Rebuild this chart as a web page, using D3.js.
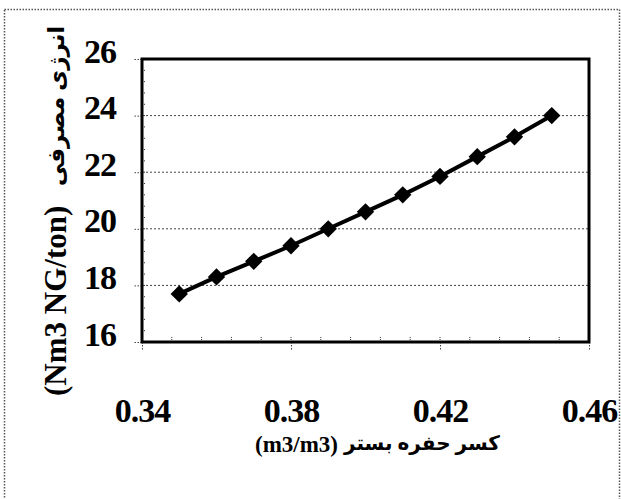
<!DOCTYPE html>
<html>
<head>
<meta charset="utf-8">
<script src="https://cdn.jsdelivr.net/npm/d3@7"></script>
<style>
  body { margin: 0; background: #fff; }
  text { font-family: "Liberation Serif", "DejaVu Serif", "DejaVu Sans", serif; font-weight: bold; fill: #000; }
</style>
</head>
<body>
<div id="chart"></div>
<script>
var voidFraction = [0.35, 0.36, 0.37, 0.38, 0.39, 0.40, 0.41, 0.42, 0.43, 0.44, 0.45];
var energy = [17.7, 18.3, 18.85, 19.4, 20.0, 20.6, 21.2, 21.85, 22.55, 23.25, 24.0];
var xTicks = [0.34, 0.38, 0.42, 0.46];
var yTicks = [16, 18, 20, 22, 24, 26];
var xUnit = '(m3/m3)';
var xTitle = 'کسر حفره بستر';
var yUnit = '(Nm3 NG/ton)';
var yTitle = 'انرژی مصرفی';

var data = voidFraction.map(function(d, i) { return { x: d, y: energy[i] }; });

var svg = d3.select('#chart').append('svg').attr('width', 621).attr('height', 499);

// dotted outer frame
svg.append('rect')
	.attr('x', 4.5).attr('y', 9.5)
	.attr('width', 615).attr('height', 520)
	.attr('fill', 'none')
	.attr('stroke', '#555')
	.attr('stroke-width', 1.5)
	.attr('stroke-dasharray', '1.5 1.5');

var xScale = d3.scaleLinear().domain([0.34, 0.46]).range([142, 589]);
var yScale = d3.scaleLinear().domain([16, 26]).range([342, 59]);

// gridlines
svg.append('g')
	.selectAll('line')
	.data(yTicks.filter(function(d) { return d > 16 && d < 26; }))
	.enter()
	.append('line')
	.attr('x1', 142).attr('x2', 589)
	.attr('y1', function(d) { return yScale(d); })
	.attr('y2', function(d) { return yScale(d); })
	.attr('stroke', '#444')
	.attr('stroke-width', 1)
	.attr('stroke-dasharray', '2 2');

// minor ticks inside
var xMinor = d3.range(0.34, 0.4601, 0.008);
svg.append('g')
	.selectAll('line')
	.data(xMinor)
	.enter()
	.append('line')
	.attr('x1', function(d) { return xScale(d); })
	.attr('x2', function(d) { return xScale(d); })
	.attr('y1', 342).attr('y2', 337)
	.attr('stroke', '#333')
	.attr('stroke-dasharray', '1 1');

var yMinor = d3.range(16, 26.01, 0.4);
svg.append('g')
	.selectAll('line')
	.data(yMinor)
	.enter()
	.append('line')
	.attr('x1', 142).attr('x2', 146)
	.attr('y1', function(d) { return yScale(d); })
	.attr('y2', function(d) { return yScale(d); })
	.attr('stroke', '#333')
	.attr('stroke-dasharray', '1 1');

// axes
var xAxis = d3.axisBottom(xScale).tickValues(xTicks).tickSize(8).tickFormat(d3.format('.2f'));
var yAxis = d3.axisLeft(yScale).tickValues(yTicks).tickSize(8).tickFormat(d3.format('d'));

var gx = svg.append('g').attr('transform', 'translate(0,342)').call(xAxis);
gx.select('.domain').remove();
gx.selectAll('.tick line').attr('stroke', '#444').attr('stroke-dasharray', '1.5 1.5');
gx.selectAll('.tick text')
	.attr('y', 80).attr('dy', 0)
	.style('font-size', '34px')
	.style('letter-spacing', '-1px');

var gy = svg.append('g').attr('transform', 'translate(142,0)').call(yAxis);
gy.select('.domain').remove();
gy.selectAll('.tick line').attr('stroke', '#444').attr('stroke-dasharray', '1.5 1.5');
gy.selectAll('.tick text')
	.attr('x', -26).attr('dy', 3)
	.style('font-size', '34px')
	.style('letter-spacing', '-1px');

// plot frame
svg.append('rect')
	.attr('x', 142).attr('y', 59)
	.attr('width', 447).attr('height', 283)
	.attr('fill', 'none')
	.attr('stroke', '#000')
	.attr('stroke-width', 3);

// line + diamonds
var line = d3.line()
	.x(function(d) { return xScale(d.x); })
	.y(function(d) { return yScale(d.y); });

svg.append('path')
	.attr('d', line(data))
	.attr('fill', 'none')
	.attr('stroke', '#000')
	.attr('stroke-width', 4);

svg.append('g')
	.selectAll('path')
	.data(data)
	.enter()
	.append('path')
	.attr('d', d3.symbol().type(d3.symbolSquare).size(150))
	.attr('transform', function(d) { return 'translate(' + xScale(d.x) + ',' + yScale(d.y) + ') rotate(45)'; })
	.attr('fill', '#000');

// titles
svg.append('text')
	.attr('x', 255).attr('y', 452)
	.style('font-size', '23px')
	.text(xUnit);

svg.append('text')
	.attr('x', 422).attr('y', 450)
	.attr('text-anchor', 'middle')
	.style('font-size', '20px')
	.text(xTitle);

svg.append('text')
	.attr('transform', 'translate(66,396) rotate(-90)')
	.style('font-size', '31px')
	.text(yUnit);

svg.append('text')
	.attr('transform', 'translate(64,106) rotate(-90)')
	.attr('text-anchor', 'middle')
	.style('font-size', '23px')
	.text(yTitle);
</script>
</body>
</html>
